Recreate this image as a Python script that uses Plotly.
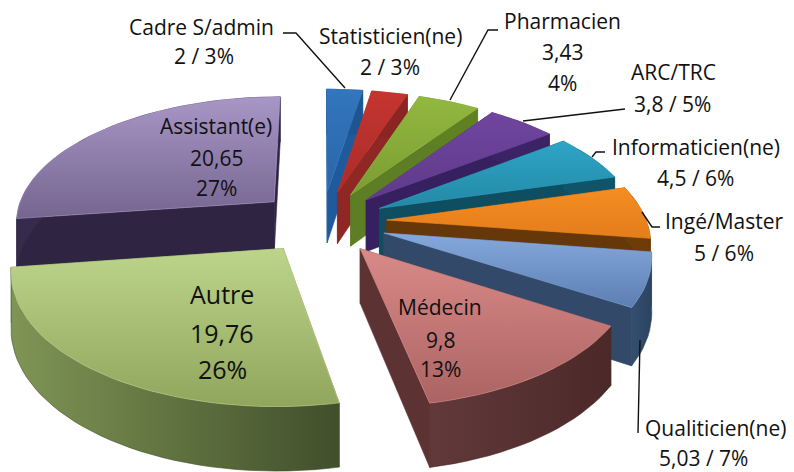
import math
import plotly.graph_objects as go

# ---- data ----
categories = ["Cadre S/admin", "Statisticien(ne)", "Pharmacien", "ARC/TRC", "Informaticien(ne)",
              "Ingé/Master", "Qualiticien(ne)", "Médecin", "Autre", "Assistant(e)"]
values = [2, 2, 3.43, 3.8, 4.5, 5, 5.03, 9.8, 19.76, 20.65]
value_labels = ["2", "2", "3,43", "3,8", "4,5", "5", "5,03", "9,8", "19,76", "20,65"]
percents = [3, 3, 4, 5, 6, 6, 7, 13, 26, 27]

# top gradient (far edge, near edge), outer wall (left, right), radial wall
top_colors = [("#3276bd", "#2a66a8"), ("#c5352f", "#a92c2a"), ("#93b83f", "#7b9c33"), ("#70459f", "#5f3a8a"),
              ("#2ea5c6", "#2488a6"), ("#f58d22", "#e47d1b"), ("#86a9dc", "#5c7eb3"), ("#d98a88", "#ab6463"),
              ("#bdd48b", "#8fa65c"), ("#a896c6", "#75658f")]
wall_outer = [("#1e5490", "#1e5490"), ("#8a2523", "#8a2523"), ("#5f8023", "#5f8023"), ("#3b2365", "#3b2365"),
              ("#0f5468", "#0f5468"), ("#6e3c08", "#6e3c08"), ("#34506f", "#2b4362"), ("#62393a", "#4b2928"),
              ("#7f9555", "#414f2b"), ("#362b4d", "#2f2543")]
wall_radial = ["#1f5a9c", "#8f2725", "#5d7e24", "#37205f", "#0f4e60", "#663708", "#32496a", "#5c3232", "#6b8046", "#2f2543"]

# ---- projection of the tilted, exploded pie ----
CX, CY = 322, 222
R, RK, H = 260, 126, 53
EXPLODE, PERSP = 0.25, 0.148


def project(X, Y, Z=0.0):
    s = 1 / (1 + PERSP * Y)
    return CX + R * X * s, CY - RK * Y * s + H * Z * s


total = sum(values)
wedges = []
angle = 0.0
for i, v in enumerate(values):
    sweep = 2 * math.pi * v / total
    wedges.append((i, angle, angle + sweep))
    angle += sweep


def wedge_outline(a0, a1):
    mid = (a0 + a1) / 2
    ex, ey = EXPLODE * math.sin(mid), EXPLODE * math.cos(mid)
    n = max(6, int((a1 - a0) / 0.04))
    arc = [(ex + math.sin(a0 + (a1 - a0) * k / n), ey + math.cos(a0 + (a1 - a0) * k / n)) for k in range(n + 1)]
    return (ex, ey), arc


fig = go.Figure()


def poly(points, c0, c1, kind, name):
    xs = [p[0] for p in points] + [points[0][0]]
    ys = [p[1] for p in points] + [points[0][1]]
    fig.add_trace(go.Scatter(
        x=xs, y=ys, mode="lines", fill="toself", name=name, hoverinfo="name",
        line=dict(width=0.6, color=c1),
        fillgradient=dict(type=kind, colorscale=[[0, c0], [1, c1]]),
    ))


faces = []
for i, a0, a1 in wedges:
    tip, arc = wedge_outline(a0, a1)
    depth = (tip[1] + arc[len(arc) // 2][1]) / 2
    faces.append((depth, i, tip, arc))
faces.sort(key=lambda f: -f[0])

for depth, i, tip, arc in faces:
    name = categories[i]
    top = [project(*tip)] + [project(*p) for p in arc]
    for end in (arc[0], arc[-1]):
        wall = [project(*tip), project(*end), project(*end, 1), project(*tip, 1)]
        poly(wall, wall_radial[i], wall_radial[i], "horizontal", name)
    outer = [project(*p) for p in arc] + [project(*p, 1) for p in reversed(arc)]
    poly(outer, wall_outer[i][0], wall_outer[i][1], "horizontal", name)
    poly(top, top_colors[i][1], top_colors[i][0], "vertical", name)

# ---- labels ----
FONT = "Open Sans, sans-serif"
label_lines = {
    0: [(f"{categories[0]}", 201, 27), (f"{value_labels[0]} / {percents[0]}%", 204, 56)],
    1: [(f"{categories[1]}", 390, 36), (f"{value_labels[1]} / {percents[1]}%", 390, 67)],
    2: [(categories[2], 562, 21), (value_labels[2], 562, 52), (f"{percents[2]}%", 562, 83)],
    3: [(categories[3], 673, 72), (f"{value_labels[3]} / {percents[3]}%", 672, 104)],
    4: [(categories[4], 696, 147), (f"{value_labels[4]} / {percents[4]}%", 695, 178)],
    5: [(categories[5], 724, 221), (f"{value_labels[5]} / {percents[5]}%", 724, 253)],
    6: [(categories[6], 715, 428), (f"{value_labels[6]} / {percents[6]}%", 703, 458)],
    7: [(categories[7], 440, 307), (value_labels[7], 440, 340), (f"{percents[7]}%", 440, 369)],
    8: [(categories[8], 222, 294), (value_labels[8], 222, 333), (f"{percents[8]}%", 222, 369)],
    9: [(categories[9], 216, 126), (value_labels[9], 216, 158), (f"{percents[9]}%", 216, 188)],
}
annotations = []
for i, lines in label_lines.items():
    size = 25 if i == 8 else 21
    for text, x, y in lines:
        annotations.append(dict(x=x, y=y, xref="x", yref="y", text=text, showarrow=False,
                                xanchor="center", yanchor="middle",
                                font=dict(family=FONT, size=size, color="#111111")))

leaders = [
    "M283,33 L296,33 L345,88",
    "M450,100 L488,30 L498,30",
    "M523,121 L625,109",
    "M592,157 L596,152 L605,152",
    "M642,212 L652,227 L660,227",
    "M640,340 L638,433",
]
shapes = [dict(type="path", path=p, xref="x", yref="y", line=dict(color="#111111", width=1.4)) for p in leaders]

fig.update_layout(
    width=794, height=472, margin=dict(l=0, r=0, t=0, b=0), showlegend=False,
    paper_bgcolor="white", plot_bgcolor="white",
    xaxis=dict(range=[0, 794], visible=False, fixedrange=True),
    yaxis=dict(range=[472, 0], visible=False, fixedrange=True),
    annotations=annotations, shapes=shapes,
)
fig.write_html("out.html", config={"displayModeBar": False},
               post_script="document.body.style.margin='0';document.documentElement.style.overflow='hidden';")
